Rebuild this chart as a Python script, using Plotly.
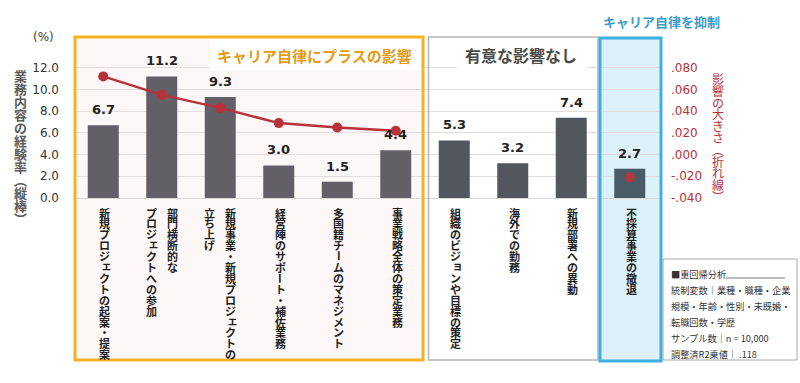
import plotly.graph_objects as go

# ---------------- data ----------------
categories = [
    "新規プロジェクトの起案・提案",
    "部門横断的なプロジェクトへの参加",
    "新規事業・新規プロジェクトの立ち上げ",
    "経営陣のサポート・補佐業務",
    "多国籍チームのマネジメント",
    "事業戦略全体の策定業務",
    "組織のビジョンや目標の策定",
    "海外での勤務",
    "新規部署への異動",
    "不採算事業の撤退",
]
label_columns = [
    ["新規プロジェクトの起案・提案"],
    ["部門横断的な", "プロジェクトへの参加"],
    ["新規事業・新規プロジェクトの", "立ち上げ"],
    ["経営陣のサポート・補佐業務"],
    ["多国籍チームのマネジメント"],
    ["事業戦略全体の策定業務"],
    ["組織のビジョンや目標の策定"],
    ["海外での勤務"],
    ["新規部署への異動"],
    ["不採算事業の撤退"],
]
experience_rate = [6.7, 11.2, 9.3, 3.0, 1.5, 4.4, 5.3, 3.2, 7.4, 2.7]
effect_size = [0.072, 0.055, 0.043, 0.029, 0.025, 0.022, None, None, None, -0.021]
bar_colors = ["#625f66"] * 6 + ["#53575d"] * 3 + ["#4a5b68"]

left_ticks = [0, 2, 4, 6, 8, 10, 12]
right_ticks = [-0.04, -0.02, 0.0, 0.02, 0.04, 0.06, 0.08]

note_lines = [
    "■重回帰分析",
    "統制変数｜業種・職種・企業",
    "規模・年齢・性別・未既婚・",
    "転職回数・学歴",
    "サンプル数｜n = 10,000",
    "調整済R2乗値｜ .118",
]

# ---------------- layout geometry ----------------
W, H = 800, 383
L, R, T, B = 74, 141, 46, 185
PW, PH = W - L - R, H - T - B
JP = "Noto Sans CJK JP"
NUM = "DejaVu Sans"


def fx(x):
    return (x - L) / PW


def fy(y):
    return (H - B - y) / PH


def fmt_right(v):
    s = f"{v:.3f}"
    return s.replace("0.", ".", 1)


fig = go.Figure()
fig.add_trace(go.Bar(
    x=categories, y=experience_rate, marker=dict(color=bar_colors, line=dict(width=0)),
    width=0.53, yaxis="y", hoverinfo="skip",
))
fig.add_trace(go.Scatter(
    x=categories, y=effect_size, yaxis="y2", mode="lines+markers",
    line=dict(color="#b8323b", width=2.5), marker=dict(color="#b8323b", size=10),
    connectgaps=False, cliponaxis=False, hoverinfo="skip",
))

annotations = []
shapes = []

# bar value labels
for c, v in zip(categories, experience_rate):
    annotations.append(dict(
        x=c, y=v, xref="x", yref="y", text=f"{v:.1f}", showarrow=False,
        xanchor="center", yanchor="bottom", yshift=6,
        font=dict(family=NUM, size=13, color="#222222", weight="bold"),
    ))

SMALL = set("ャュョッァィゥェォ")
VERT = {"（": "︵", "）": "︶"}


def vertical(chars, xref, x, xshift, y_top_center, step, font, color, weight="normal"):
    for i, ch in enumerate(chars):
        yc = y_top_center + i * step
        a = dict(xref=xref, x=x, yref="paper", y=fy(yc), text=VERT.get(ch, ch), showarrow=False,
                 xanchor="center", yanchor="middle", xshift=xshift,
                 font=dict(family=JP, size=font, color=color, weight=weight))
        if ch == "ー":
            a["textangle"] = 90
        if ch in SMALL:
            a["xshift"] = xshift + 2
            a["yshift"] = 2
        annotations.append(a)


# category labels (vertical Japanese)
for c, cols in zip(categories, label_columns):
    if len(cols) == 1:
        vertical(cols[0], "x", c, 1.5, 212.5, 10.9, 11, "#1e1e1e", "bold")
    else:
        vertical(cols[0], "x", c, 10.5, 212.5, 10.9, 11, "#1e1e1e", "bold")
        vertical(cols[1], "x", c, -10.5, 212.5, 10.9, 11, "#1e1e1e", "bold")

# axis titles (vertical)
vertical("業務内容の経験率（縦棒）", "paper", fx(20), 0, 75.5, 13, 13, "#5c5c5c", "bold")
vertical("影響の大きさ（折れ線）", "paper", fx(718), 0, 78.5, 11.8, 12, "#b8323b", "normal")

annotations.append(dict(xref="paper", yref="paper", x=fx(43), y=fy(37), text="(%)",
                        showarrow=False, xanchor="center", yanchor="middle",
                        font=dict(family=NUM, size=12, color="#444444")))

# region backgrounds
shapes.append(dict(type="rect", xref="paper", yref="paper", x0=fx(75), x1=fx(423),
                   y0=fy(360), y1=fy(37), fillcolor="#fdf8f7", line=dict(width=0), layer="below"))
shapes.append(dict(type="rect", xref="paper", yref="paper", x0=fx(600), x1=fx(661),
                   y0=fy(361), y1=fy(38), fillcolor="#dcf1fa", line=dict(width=0), layer="below"))
# header white patches
shapes.append(dict(type="rect", xref="paper", yref="paper", x0=fx(210), x1=fx(421.5),
                   y0=fy(70), y1=fy(38.5), fillcolor="#ffffff", line=dict(width=0), layer="above"))
shapes.append(dict(type="rect", xref="paper", yref="paper", x0=fx(457), x1=fx(587),
                   y0=fy(72), y1=fy(38.5), fillcolor="#ffffff", line=dict(width=0), layer="above"))
# region borders
shapes.append(dict(type="rect", xref="paper", yref="paper", x0=fx(75), x1=fx(423),
                   y0=fy(360), y1=fy(37), line=dict(color="#f5b223", width=3), layer="above"))
shapes.append(dict(type="rect", xref="paper", yref="paper", x0=fx(428.5), x1=fx(598),
                   y0=fy(360), y1=fy(37), line=dict(color="#b5b5b5", width=1.5), layer="above"))
shapes.append(dict(type="rect", xref="paper", yref="paper", x0=fx(600), x1=fx(661),
                   y0=fy(361), y1=fy(38), line=dict(color="#3cb0e2", width=3), layer="above"))
# note box
shapes.append(dict(type="rect", xref="paper", yref="paper", x0=fx(663), x1=fx(797),
                   y0=fy(360), y1=fy(259), fillcolor="#ffffff",
                   line=dict(color="#a8a8a8", width=1), layer="above"))
shapes.append(dict(type="line", xref="paper", yref="paper", x0=fx(726), x1=fx(785),
                   y0=fy(278), y1=fy(278), line=dict(color="#555555", width=0.8), layer="above"))

# headers
annotations.append(dict(xref="paper", yref="paper", x=fx(314), y=fy(55), text="キャリア自律にプラスの影響",
                        showarrow=False, xanchor="center", yanchor="middle",
                        font=dict(family=JP, size=15, color="#e39b16", weight="bold")))
annotations.append(dict(xref="paper", yref="paper", x=fx(521), y=fy(55), text="有意な影響なし",
                        showarrow=False, xanchor="center", yanchor="middle",
                        font=dict(family=JP, size=16, color="#4a4a4a", weight="bold")))
annotations.append(dict(xref="paper", yref="paper", x=fx(661), y=fy(22), text="キャリア自律を抑制",
                        showarrow=False, xanchor="center", yanchor="middle",
                        font=dict(family=JP, size=13, color="#3a9cc8", weight="bold")))

# note text
for i, line in enumerate(note_lines):
    annotations.append(dict(xref="paper", yref="paper", x=fx(669), y=fy(274 + 16 * i), text=line,
                            showarrow=False, xanchor="left", yanchor="middle",
                            font=dict(family=JP, size=9.2, color="#333333")))

fig.update_layout(
    width=W, height=H, margin=dict(l=L, r=R, t=T, b=B, pad=0, autoexpand=False),
    paper_bgcolor="#ffffff", plot_bgcolor="rgba(0,0,0,0)",
    showlegend=False, bargap=0.47,
    xaxis=dict(type="category", showticklabels=False, ticks="", showgrid=False,
               showline=True, linecolor="#d9d9d9", linewidth=1, zeroline=False,
               range=[-0.5, 9.5], automargin=False),
    yaxis=dict(range=[0, 14], tickvals=left_ticks, ticktext=[f"{v:.1f}" for v in left_ticks],
               showgrid=True, gridcolor="#e3dddd", gridwidth=1, zeroline=False,
               tickfont=dict(family=NUM, size=12, color="#333333"), ticks="",
               ticklabelstandoff=14, showline=False, automargin=False),
    yaxis2=dict(range=[-0.04, 0.10], overlaying="y", side="right", tickvals=right_ticks,
                ticktext=[fmt_right(v) for v in right_ticks], showgrid=False, zeroline=False,
                tickfont=dict(family=NUM, size=12, color="#b8323b"), ticks="",
                ticklabelstandoff=11, showline=False, automargin=False),
    annotations=annotations, shapes=shapes,
)

fig.write_html(
    "out.html",
    config={"displayModeBar": False},
    post_script="document.body.style.margin='0';document.body.style.padding='0';",
)
